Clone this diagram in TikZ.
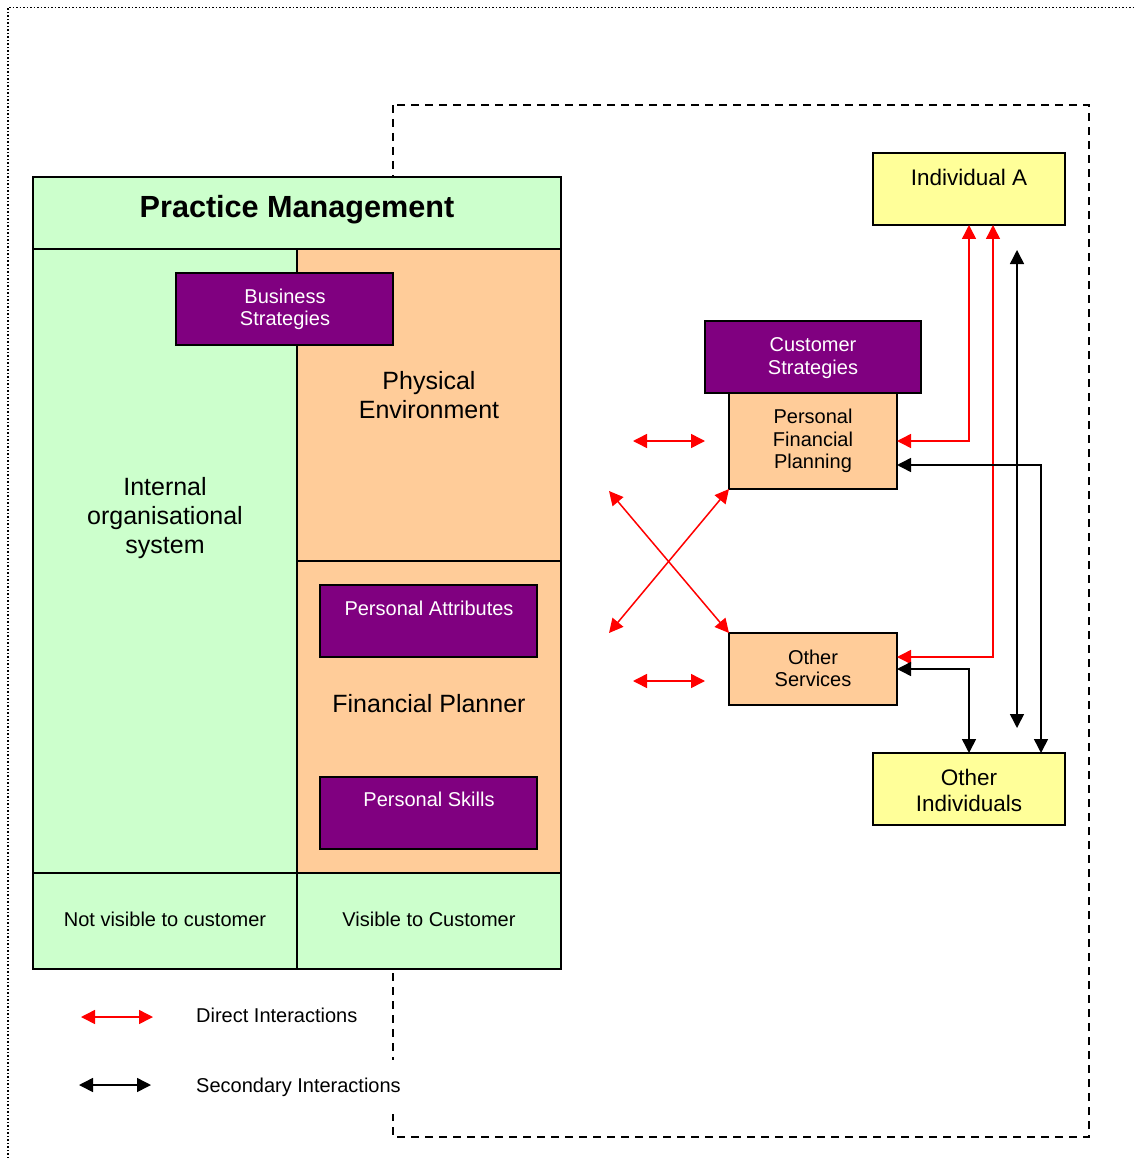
\documentclass[tikz,border=0pt]{standalone}
\usepackage{fontspec}
\setmainfont{Liberation Sans}
\usetikzlibrary{arrows.meta,calc}
\definecolor{pmgreen}{HTML}{CCFFCC}
\definecolor{pmorange}{HTML}{FFCC99}
\definecolor{pmpurple}{HTML}{800080}
\definecolor{pmyellow}{HTML}{FFFF99}
\definecolor{pmred}{HTML}{FF0000}
\begin{document}
\begin{tikzpicture}[x=1pt,y=-1pt,
  box/.style={draw=black,line width=1.5pt,inner sep=0pt,outer sep=0pt,anchor=north west},
  greenbox/.style={box,fill=pmgreen},
  orangebox/.style={box,fill=pmorange},
  purplebox/.style={box,fill=pmpurple},
  yellowbox/.style={box,fill=pmyellow},
  txt/.style={inner sep=0pt,align=center,font=\fontsize{20}{22.5}\selectfont},
  wtxt/.style={txt,text=white},
  bigtxt/.style={inner sep=0pt,align=center,font=\fontsize{25}{29}\selectfont},
  midtxt/.style={inner sep=0pt,align=center,font=\fontsize{22.5}{26}\selectfont},
  redarr/.style={draw=pmred,line width=1.5pt,{Triangle[length=14pt,width=14pt]}-{Triangle[length=14pt,width=14pt]}},
  blackarr/.style={draw=black,line width=1.5pt,{Triangle[length=14pt,width=14pt]}-{Triangle[length=14pt,width=14pt]}}
]
\useasboundingbox (0,0) rectangle (1136,1158);
\fill[white] (0,0) rectangle (1136,1158);

% outer frame and dashed region
\draw[dotted,line width=1.5pt] (8,1158) -- (8,7.5) -- (1136,7.5);
\draw[dash pattern=on 8pt off 6pt,line width=1.5pt] (393,105) rectangle (1089,1137);

% Practice management block
\node[greenbox,minimum width=528,minimum height=72] (pmhead) at (33,177) {};
\node[inner sep=0pt,font=\fontsize{30.6}{34}\selectfont\bfseries] (pmtitle) at (297,210) {Practice Management};
\node[greenbox,minimum width=264,minimum height=624] (intsys) at (33,249) {};
\node[orangebox,minimum width=264,minimum height=312] (physenv) at (297,249) {};
\node[orangebox,minimum width=264,minimum height=312] (finplan) at (297,561) {};
\node[greenbox,minimum width=264,minimum height=96] (notvis) at (33,873) {};
\node[greenbox,minimum width=264,minimum height=96] (vis) at (297,873) {};
\node[purplebox,minimum width=217,minimum height=72] (busstr) at (176,273) {};
\node[purplebox,minimum width=217,minimum height=72] (persattr) at (320,585) {};
\node[purplebox,minimum width=217,minimum height=72] (persskill) at (320,777) {};

\node[bigtxt] (intsystxt) at (165,518.5) {Internal\\organisational\\system};
\node[bigtxt] (physenvtxt) at (429,395) {Physical\\Environment};
\node[bigtxt] (finplantxt) at (429,704) {Financial Planner};
\node[wtxt] (busstrtxt) at (285,309.5) {Business\\Strategies};
\node[wtxt] (persattrtxt) at (429,608) {Personal Attributes};
\node[wtxt] (persskilltxt) at (429,799) {Personal Skills};
\node[txt] (notvistxt) at (165,919) {Not visible to customer};
\node[txt] (vistxt) at (429,919) {Visible to Customer};

% right side
\node[yellowbox,minimum width=192,minimum height=72] (indA) at (873,153) {};
\node[midtxt] (indAtxt) at (969,177.5) {Individual A};
\node[purplebox,minimum width=216,minimum height=72] (custstr) at (705,321) {};
\node[wtxt] (custstrtxt) at (813,358) {Customer\\Strategies};
\node[orangebox,minimum width=168,minimum height=96] (pfp) at (729,393) {};
\node[txt] (pfptxt) at (813,441) {Personal\\Financial\\Planning};
\node[orangebox,minimum width=168,minimum height=72] (othserv) at (729,633) {};
\node[txt] (othservtxt) at (813,668.5) {Other\\Services};
\node[yellowbox,minimum width=192,minimum height=72] (othind) at (873,753) {};
\node[midtxt] (othindtxt) at (969,790.5) {Other\\Individuals};

% connectors
\draw[redarr] (pfp.east) -| (indA.south);
\draw[redarr] ([yshift=12pt]othserv.east) -| ([xshift=24pt]indA.south);
\coordinate (bvtop) at (1017,250);
\coordinate (bvbot) at (1017,728);
\draw[blackarr] (bvtop) -- (bvbot);
\draw[blackarr] ([yshift=-24pt]pfp.east) -| ([xshift=72pt]othind.north);
\draw[blackarr] (othserv.east) -| (othind.north);

\coordinate (ra1) at (633,441);
\coordinate (ra2) at (705,441);
\coordinate (rb1) at (633,681);
\coordinate (rb2) at (705,681);
\draw[redarr] (ra1) -- (ra2);
\draw[redarr] (rb1) -- (rb2);
\coordinate (xa) at (609,491);
\coordinate (xb) at (609,633);
\draw[redarr] (xa) -- (othserv.north west);
\draw[redarr] (xb) -- (pfp.south west);

% legend
\coordinate (lr1) at (81,1017);
\coordinate (lr2) at (153,1017);
\coordinate (lb1) at (79,1085);
\coordinate (lb2) at (151,1085);
\draw[redarr] (lr1) -- (lr2);
\draw[blackarr] (lb1) -- (lb2);
\node[txt,anchor=west] (lrtxt) at (196,1015) {Direct Interactions};
\node[txt,anchor=west,fill=white,inner xsep=0pt,inner ysep=18pt] (lbtxt) at (196,1087) {Secondary Interactions};
\end{tikzpicture}
\end{document}
